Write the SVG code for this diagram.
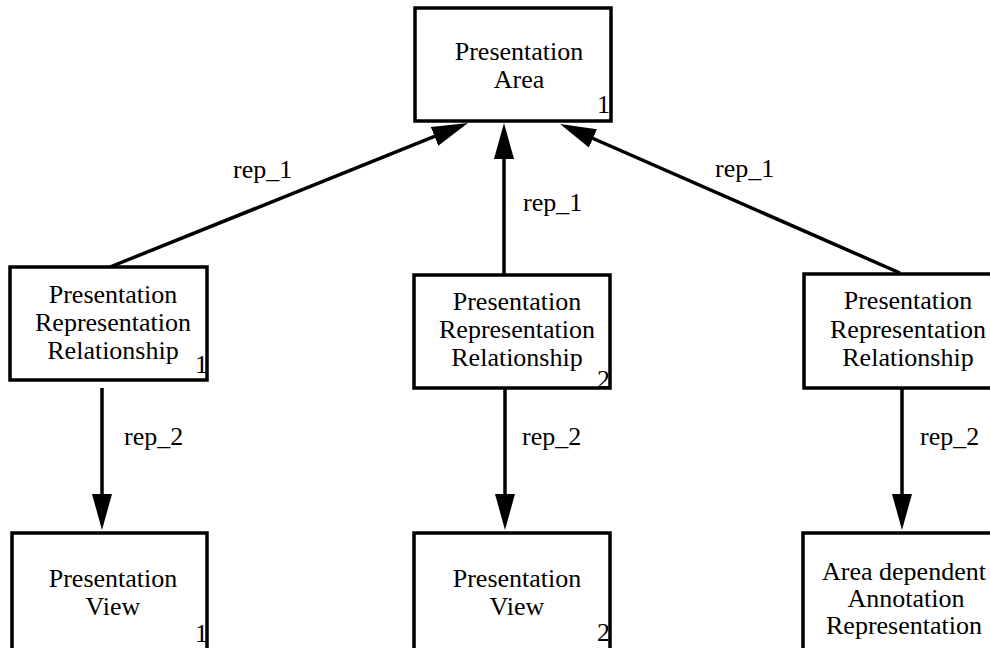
<svg xmlns="http://www.w3.org/2000/svg" width="990" height="648" viewBox="0 0 990 648">
  <style>
    .box { fill: #fff; stroke: #000; stroke-width: 3.5; }
    .t { font-family: "Liberation Serif", "Times New Roman", serif; font-size: 26px; fill: #000; text-anchor: middle; }
    .n { font-family: "Liberation Serif", "Times New Roman", serif; font-size: 26px; fill: #000; text-anchor: end; }
    .lbl { font-family: "Liberation Serif", "Times New Roman", serif; font-size: 26px; fill: #000; }
    .edge { stroke: #000; stroke-width: 3.5; fill: none; marker-end: url(#head); }
  </style>
  <defs>
    <marker id="head" viewBox="0 0 36 20" markerWidth="36" markerHeight="20" refX="26" refY="10" orient="auto" markerUnits="userSpaceOnUse">
      <path d="M0,0 L36,10 L0,20 Z" fill="#000"/>
    </marker>
  </defs>
  <rect width="990" height="648" fill="#fff"/>

  <g id="connectors">
    <path class="edge" d="M110,267 L458.7,126.7"/>
    <path class="edge" d="M504,275 L504,133"/>
    <path class="edge" d="M900,273 L569.2,128"/>
    <path class="edge" d="M102,388 L102,520"/>
    <path class="edge" d="M505,388 L505,520"/>
    <path class="edge" d="M902,388 L902,520"/>
    <text class="lbl" x="233" y="178">rep_1</text>
    <text class="lbl" x="523" y="211">rep_1</text>
    <text class="lbl" x="715" y="177">rep_1</text>
    <text class="lbl" x="124" y="445">rep_2</text>
    <text class="lbl" x="522" y="445">rep_2</text>
    <text class="lbl" x="920" y="445">rep_2</text>
  </g>

  <g id="presentation-area">
    <rect class="box" x="415" y="8" width="196" height="113"/>
    <text class="t" x="519" y="60">Presentation</text>
    <text class="t" x="519" y="88">Area</text>
    <text class="n" x="610" y="113">1</text>
  </g>

  <g id="relationship-1">
    <rect class="box" x="10" y="267" width="197" height="113"/>
    <text class="t" x="113" y="303">Presentation</text>
    <text class="t" x="113" y="331">Representation</text>
    <text class="t" x="113" y="359">Relationship</text>
    <text class="n" x="208" y="373">1</text>
  </g>

  <g id="relationship-2">
    <rect class="box" x="414" y="275" width="196" height="113"/>
    <text class="t" x="517" y="310">Presentation</text>
    <text class="t" x="517" y="338">Representation</text>
    <text class="t" x="517" y="366">Relationship</text>
    <text class="n" x="610" y="388">2</text>
  </g>

  <g id="relationship-3">
    <rect class="box" x="804" y="274" width="196" height="114"/>
    <text class="t" x="908" y="309">Presentation</text>
    <text class="t" x="908" y="338">Representation</text>
    <text class="t" x="908" y="366">Relationship</text>
  </g>

  <g id="view-1">
    <rect class="box" x="12" y="533" width="195" height="120"/>
    <text class="t" x="113" y="587">Presentation</text>
    <text class="t" x="113" y="615">View</text>
    <text class="n" x="208" y="642">1</text>
  </g>

  <g id="view-2">
    <rect class="box" x="414" y="533" width="196" height="120"/>
    <text class="t" x="517" y="587">Presentation</text>
    <text class="t" x="517" y="615">View</text>
    <text class="n" x="610" y="641">2</text>
  </g>

  <g id="annotation-representation">
    <rect class="box" x="803" y="533" width="197" height="120"/>
    <text class="t" x="904" y="580">Area dependent</text>
    <text class="t" x="906" y="607">Annotation</text>
    <text class="t" x="904" y="634">Representation</text>
  </g>
</svg>
